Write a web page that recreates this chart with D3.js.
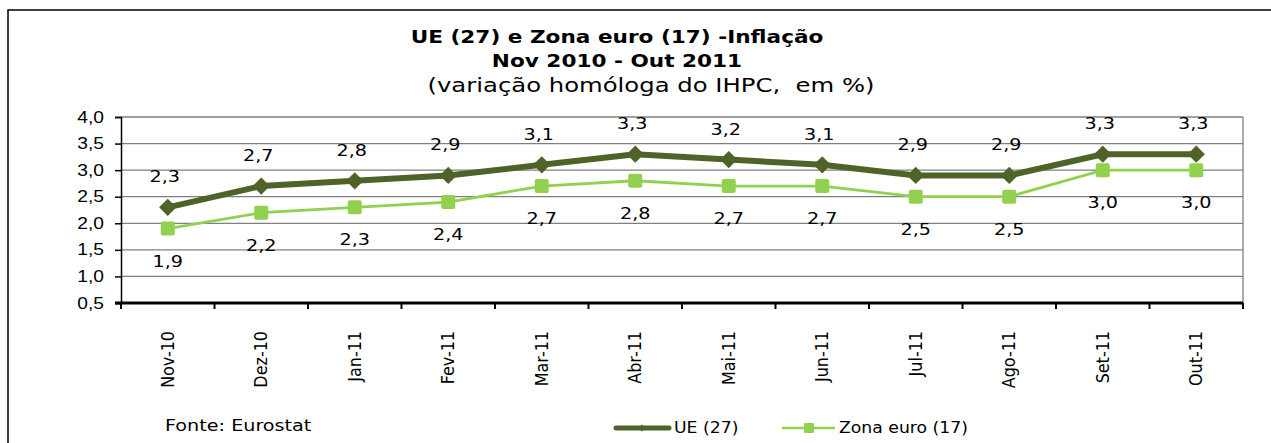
<!DOCTYPE html>
<html>
<head>
<meta charset="utf-8">
<script src="https://cdn.jsdelivr.net/npm/d3@7"></script>
<style>
  body { margin: 0; background: #fff; }
  svg { font-family: "DejaVu Sans", Verdana, sans-serif; }
  text { white-space: pre; }
</style>
</head>
<body>
<div id="chart"></div>
<script>
// data
var months = ["Nov-10","Dez-10","Jan-11","Fev-11","Mar-11","Abr-11","Mai-11","Jun-11","Jul-11","Ago-11","Set-11","Out-11"];
var ue = [2.3, 2.7, 2.8, 2.9, 3.1, 3.3, 3.2, 3.1, 2.9, 2.9, 3.3, 3.3];
var zonaEuro = [1.9, 2.2, 2.3, 2.4, 2.7, 2.8, 2.7, 2.7, 2.5, 2.5, 3.0, 3.0];
var yTicks = [0.5, 1.0, 1.5, 2.0, 2.5, 3.0, 3.5, 4.0];

var w = 1271, h = 443;
var margin = {top: 117, right: 28, bottom: 140, left: 121};
var width = w - margin.left - margin.right,
    height = h - margin.top - margin.bottom;

// the original picture is stretched sideways a little
var sx = 1.2;
var place = function(px, py, s) {
    return "translate(" + px + "," + py + ") scale(" + (s || sx) + ",1)";
};

var fmt = function(v) { return d3.format(".1f")(v).replace(".", ","); };

var svg = d3.select("#chart").append("svg")
    .attr("width", w)
    .attr("height", h);

// outer frame
svg.append("rect")
    .attr("x", 8).attr("y", 10)
    .attr("width", w).attr("height", h)
    .attr("fill", "none")
    .attr("stroke", "#000")
    .attr("stroke-width", 1.5);

// titles
svg.append("text").attr("text-anchor", "middle").attr("transform", place(617, 43))
    .style("font-weight", "bold").style("font-size", "18px")
    .text("UE (27) e Zona euro (17) -Inflação");
svg.append("text").attr("text-anchor", "middle").attr("transform", place(617, 67))
    .style("font-weight", "bold").style("font-size", "18px")
    .text("Nov 2010 - Out 2011");
svg.append("text").attr("text-anchor", "middle").attr("transform", place(651, 92, 1.28))
    .style("font-size", "19px")
    .text("(variação homóloga do IHPC,  em %)");

var g = svg.append("g")
    .attr("transform", "translate(" + margin.left + "," + margin.top + ")");

var x = d3.scaleBand().domain(months).range([0, width]);
var y = d3.scaleLinear().domain([0.5, 4.0]).range([height, 0]);

// gridlines
g.append("g")
    .selectAll("line")
    .data(yTicks.slice(1))
    .enter().append("line")
    .attr("x1", 0).attr("x2", width)
    .attr("y1", function(d) { return y(d); })
    .attr("y2", function(d) { return y(d); })
    .attr("stroke", "#808080")
    .attr("stroke-width", 1.3);

// right border of plot area
g.append("line")
    .attr("x1", width).attr("x2", width)
    .attr("y1", 0).attr("y2", height)
    .attr("stroke", "#808080")
    .attr("stroke-width", 1.3);

// y axis
var yAxis = g.append("g")
    .call(d3.axisLeft(y).tickValues(yTicks).tickFormat(fmt).tickSizeOuter(0).tickSize(6));
yAxis.selectAll("text")
    .attr("x", 0)
    .attr("transform", "translate(-17,0) scale(" + sx + ",1)")
    .style("font-size", "16px").attr("fill", "#000");
yAxis.select(".domain").attr("stroke", "#000").attr("stroke-width", 1.5);
yAxis.selectAll(".tick line").attr("stroke", "#000").attr("stroke-width", 1.5);

// x axis, ticks on band boundaries
var xAxis = g.append("g")
    .attr("transform", "translate(0," + height + ")");
xAxis.append("line")
    .attr("x1", -6).attr("x2", width)
    .attr("stroke", "#000").attr("stroke-width", 3);
xAxis.selectAll(".bt")
    .data(months.concat(["end"]))
    .enter().append("line")
    .attr("class", "bt")
    .attr("x1", function(d, i) { return i * x.step(); })
    .attr("x2", function(d, i) { return i * x.step(); })
    .attr("y1", 0).attr("y2", 6)
    .attr("stroke", "#000").attr("stroke-width", 2);
xAxis.selectAll(".xl")
    .data(months)
    .enter().append("text")
    .attr("class", "xl")
    .attr("text-anchor", "end")
    .attr("transform", function(d) {
        return "translate(" + (x(d) + x.bandwidth() / 2 + 6) + ",28) rotate(-90) scale(1,1.1)";
    })
    .style("font-size", "16px")
    .attr("fill", "#000")
    .text(function(d) { return d; });

var cx = function(d, i) { return x(months[i]) + x.bandwidth() / 2; };

var line = d3.line()
    .x(function(d, i) { return cx(d, i); })
    .y(function(d) { return y(d); });

var ueColor = "#4f6228", zonaColor = "#92d050";

// Zona euro
g.append("path")
    .datum(zonaEuro)
    .attr("d", line)
    .attr("fill", "none")
    .attr("stroke", zonaColor)
    .attr("stroke-width", 2.8);
g.selectAll(".zm")
    .data(zonaEuro)
    .enter().append("rect")
    .attr("class", "zm")
    .attr("x", function(d, i) { return cx(d, i) - 7; })
    .attr("y", function(d) { return y(d) - 7; })
    .attr("width", 14).attr("height", 14)
    .attr("rx", 2)
    .attr("fill", zonaColor);

// UE
g.append("path")
    .datum(ue)
    .attr("d", line)
    .attr("fill", "none")
    .attr("stroke", ueColor)
    .attr("stroke-width", 6);
g.selectAll(".um")
    .data(ue)
    .enter().append("path")
    .attr("class", "um")
    .attr("d", d3.symbol().type(d3.symbolDiamond2).size(190))
    .attr("transform", function(d, i) { return "translate(" + cx(d, i) + "," + y(d) + ")"; })
    .attr("fill", ueColor);

// value labels
g.selectAll(".ul")
    .data(ue)
    .enter().append("text")
    .attr("class", "ul")
    .attr("text-anchor", "middle")
    .attr("transform", function(d, i) { return place(cx(d, i) - 3, y(d) - 25); })
    .style("font-size", "16px")
    .attr("fill", "#000")
    .text(fmt);
g.selectAll(".zl")
    .data(zonaEuro)
    .enter().append("text")
    .attr("class", "zl")
    .attr("text-anchor", "middle")
    .attr("transform", function(d, i) { return place(cx(d, i), y(d) + 38); })
    .style("font-size", "16px")
    .attr("fill", "#000")
    .text(fmt);

// source
svg.append("text")
    .attr("transform", place(165, 431))
    .style("font-size", "16px")
    .attr("fill", "#000")
    .text("Fonte: Eurostat");

// legend
var leg = svg.append("g");
leg.append("line").attr("x1", 616).attr("x2", 669).attr("y1", 428).attr("y2", 428)
    .attr("stroke", ueColor).attr("stroke-width", 5).attr("stroke-linecap", "round");
leg.append("path").attr("d", d3.symbol().type(d3.symbolDiamond2).size(30))
    .attr("transform", "translate(642,428)").attr("fill", ueColor);
leg.append("text").attr("transform", place(674, 433, 1.15))
    .style("font-size", "15px").attr("fill", "#000").text("UE (27)");
leg.append("line").attr("x1", 782).attr("x2", 835).attr("y1", 428).attr("y2", 428)
    .attr("stroke", zonaColor).attr("stroke-width", 2.5);
leg.append("rect").attr("x", 804).attr("y", 423).attr("width", 10).attr("height", 10)
    .attr("rx", 1).attr("fill", zonaColor);
leg.append("text").attr("transform", place(839, 433, 1.15))
    .style("font-size", "15px").attr("fill", "#000").text("Zona euro (17)");
</script>
</body>
</html>
